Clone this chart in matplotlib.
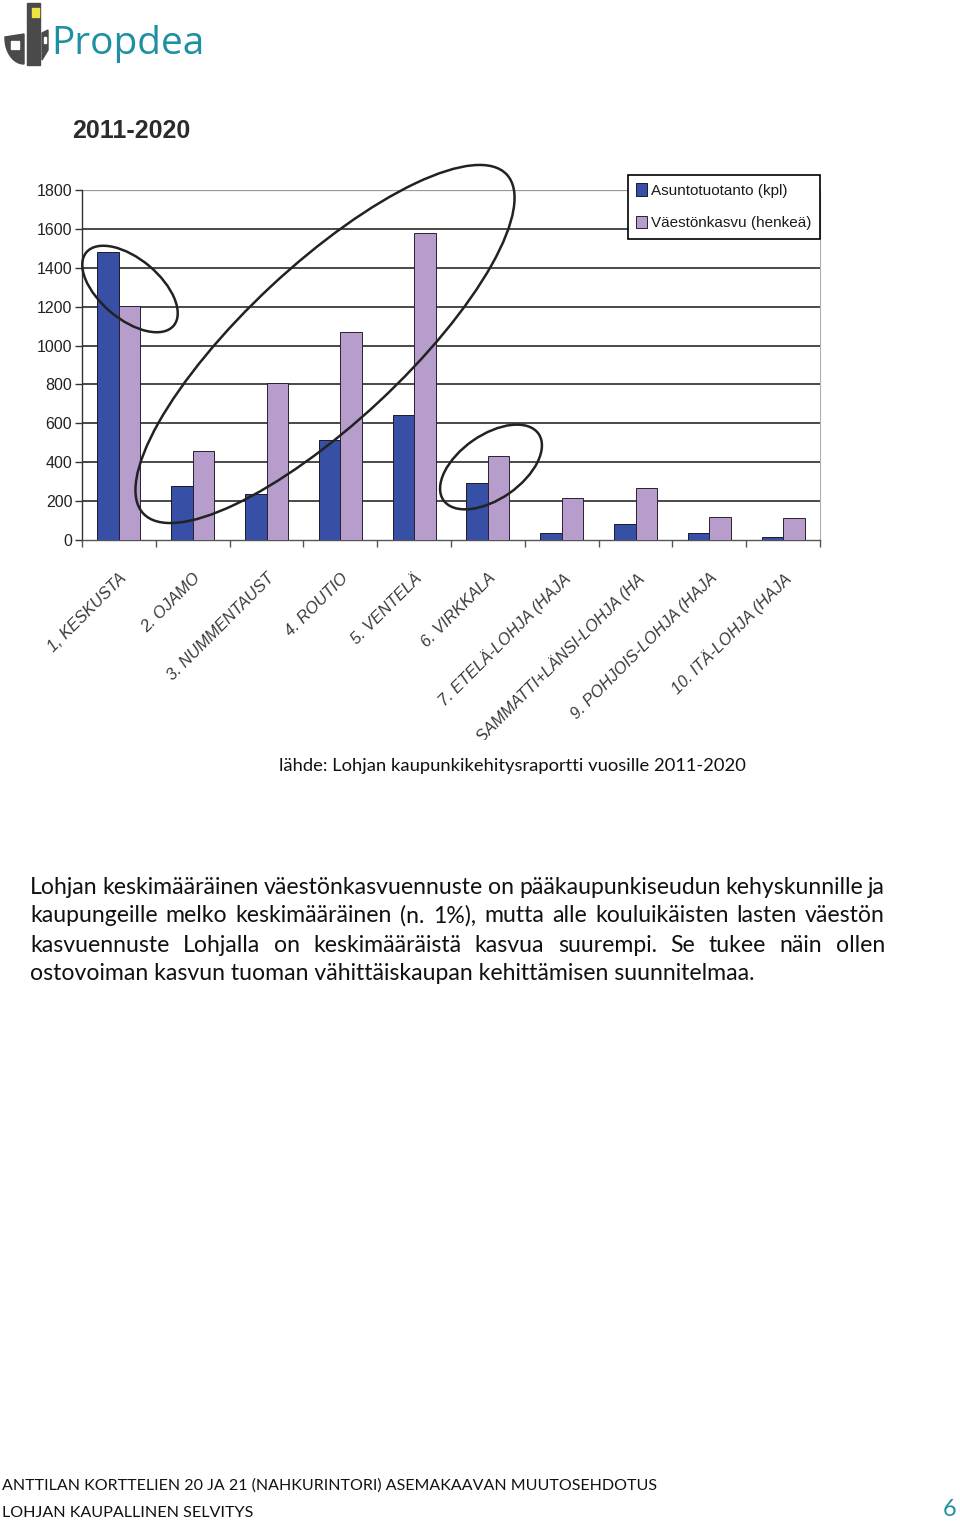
import matplotlib
matplotlib.use("Agg")
import matplotlib.pyplot as plt
import numpy as np
from matplotlib import font_manager
from matplotlib.patches import Ellipse, Rectangle, Polygon
from matplotlib.transforms import Bbox, TransformedBbox

# data (2011-2020)
areas = [
    "1, KESKUSTA",
    "2. OJAMO",
    "3. NUMMENTAUST",
    "4. ROUTIO",
    "5. VENTELÄ",
    "6. VIRKKALA",
    "7. ETELÄ-LOHJA (HAJA",
    "8. SAMMATTI+LÄNSI-LOHJA (HA",
    "9. POHJOIS-LOHJA (HAJA",
    "10. ITÄ-LOHJA (HAJA",
]
housing = [1480, 280, 235, 515, 645, 295, 38, 82, 36, 15]
pop_growth = [1205, 458, 805, 1070, 1580, 430, 215, 270, 120, 115]
series_names = ["Asuntotuotanto (kpl)", "Väestönkasvu (henkeä)"]
y_ticks = list(range(0, 1801, 200))

paragraph = [
    "Lohjan keskimääräinen väestönkasvuennuste on pääkaupunkiseudun kehyskunnille ja",
    "kaupungeille melko keskimääräinen (n. 1%), mutta alle kouluikäisten lasten väestön",
    "kasvuennuste Lohjalla on keskimääräistä kasvua suurempi. Se tukee näin ollen",
    "ostovoiman kasvun tuoman vähittäiskaupan kehittämisen suunnitelmaa.",
]
source = "lähde: Lohjan kaupunkikehitysraportti vuosille 2011-2020"
footer = [
    "ANTTILAN KORTTELIEN 20 JA 21 (NAHKURINTORI) ASEMAKAAVAN MUUTOSEHDOTUS",
    "LOHJAN KAUPALLINEN SELVITYS",
]

W, H = 960, 1524
installed = {f.name for f in font_manager.fontManager.ttflist}
chart_font = "Liberation Sans Narrow" if "Liberation Sans Narrow" in installed else "Liberation Sans"
body_font = "Lato"
teal = "#1f8fa3"

fig = plt.figure(figsize=(W / 100, H / 100), dpi=100)
fig.patch.set_facecolor("white")


def px_axes(left, top, right, bottom):
    return fig.add_axes([left / W, 1 - bottom / H, (right - left) / W, (bottom - top) / H])


# ---- bar chart ----
ax = px_axes(82, 190, 820, 540)
x = np.arange(len(areas))
bw = 0.29
ax.bar(x - bw / 2, housing, bw, color="#3750a6", edgecolor="#1a1a2a", linewidth=0.7,
       label=series_names[0], zorder=3)
ax.bar(x + bw / 2, pop_growth, bw, color="#b79dcc", edgecolor="#2a2030", linewidth=0.7,
       label=series_names[1], zorder=3)
ax.set_xlim(-0.5, len(areas) - 0.5)
ax.set_ylim(0, 1800)

for v in y_ticks[1:]:
    ax.axhline(v, color="#9a9a9a" if v == 1800 else "#2a2a2a",
               lw=0.9 if v == 1800 else 1.2, zorder=1)
ax.spines["top"].set_visible(False)
ax.spines["right"].set_color("#b0b0b0")
ax.spines["left"].set_color("#333333")
ax.spines["bottom"].set_color("#555555")
ax.spines["left"].set_linewidth(1.0)
ax.spines["bottom"].set_linewidth(1.0)

ax.set_yticks(y_ticks)
ax.set_yticklabels([str(v) for v in y_ticks], fontfamily=chart_font, fontsize=11.5, color="#222222")
ax.tick_params(axis="y", length=5, width=1, color="#333333", pad=2)

ax.set_xticks(np.arange(len(areas) + 1) - 0.5, minor=True)
ax.tick_params(axis="x", which="minor", length=5, width=1, color="#555555")
ax.set_xticks(x)
ax.set_xticklabels(areas, rotation=45, ha="right", rotation_mode="anchor",
                   fontfamily=chart_font, fontstyle="italic", fontsize=11.8, color="#3a3a3a")
ax.tick_params(axis="x", which="major", length=0, pad=22)

clip = TransformedBbox(Bbox([[0, 1 - 740 / H], [1, 1]]), fig.transFigure)
for lab in ax.get_xticklabels():
    lab.set_clip_box(clip)
    lab.set_clip_on(True)

leg = ax.legend(loc="upper right", bbox_to_anchor=(1.0, (540 - 175) / 350), frameon=True,
                fancybox=False, edgecolor="black", framealpha=1, borderpad=0.55,
                handlelength=0.7, handleheight=0.9, handletextpad=0.3, labelspacing=1.15,
                borderaxespad=0, prop={"family": chart_font, "size": 11})
leg.get_frame().set_linewidth(1.2)
for t in leg.get_texts():
    t.set_color("#1a1a1a")
leg.set_zorder(5)

# ---- overlay in pixel coordinates (y grows downwards) ----
ov = px_axes(0, 0, W, H)
ov.set_xlim(0, W)
ov.set_ylim(H, 0)
ov.axis("off")
ov.patch.set_alpha(0)

for cx, cy, w, h, ang in [(130, 289, 114, 60, 40), (325, 344, 497, 158, -43), (491, 467, 116, 64, -35)]:
    ov.add_patch(Ellipse((cx, cy), w, h, angle=ang, fill=False, ec="#222222", lw=1.8, zorder=6))

ov.text(72, 131, "2011-2020", fontfamily=chart_font, fontweight="bold", fontsize=18,
        color="#2b2b2b", va="center", ha="left")

# logo
gray = "#4a4a4a"
ov.add_patch(Rectangle((27, 3), 13, 62, color=gray))
ov.add_patch(Rectangle((32, 8), 2.5, 9, color="#f0e442"))
ov.add_patch(Rectangle((36, 8), 2.5, 9, color="#f0e442"))
t = np.linspace(0, np.pi / 2, 20)
left_piece = [(5, 37), (24, 34)] + [(24, 64)] + [(24 - 19 * np.sin(a), 38 + 26 * np.cos(a)) for a in t]
ov.add_patch(Polygon(left_piece, closed=True, color=gray))
for wx in (11, 14, 17):
    ov.add_patch(Rectangle((wx, 41), 1.5, 8, color="white"))
ov.add_patch(Polygon([(42, 33), (48, 30), (48, 50), (42, 60)], closed=True, color=gray))
ov.add_patch(Rectangle((44, 37), 1.5, 6, color="white"))
ov.text(51, 44, "Propdea", fontfamily="Open Sans", fontsize=28, color=teal, va="center", ha="left")

renderer = fig.canvas.get_renderer()


def width_of(txt):
    return txt.get_window_extent(renderer).width


def fitted(xp, yp, s, target, size, **kw):
    txt = ov.text(xp, yp, s, fontsize=size, **kw)
    txt.set_fontsize(size * target / width_of(txt))
    return txt


fitted(279, 766, source, 466, 12, fontfamily=body_font, color="#111111", va="center")

# justified paragraph
left, right = 30, 885
ref = ov.text(0, 0, paragraph[3], fontsize=15, fontfamily=body_font)
body_size = 15 * 724 / width_of(ref)
ref.remove()
for i, line in enumerate(paragraph):
    yp = 887 + 29 * i
    words = line.split(" ")
    if i == len(paragraph) - 1:
        ov.text(left, yp, line, fontsize=body_size, fontfamily=body_font, color="#111111", va="center")
        continue
    items = [ov.text(0, yp, wd, fontsize=body_size, fontfamily=body_font, color="#111111",
                     va="center") for wd in words]
    widths = [width_of(it) for it in items]
    gap = (right - left - sum(widths)) / (len(words) - 1)
    xp = left
    for it, wdt in zip(items, widths):
        it.set_x(xp)
        xp += wdt + gap

fitted(2, 1486, footer[0], 652, 12, fontfamily=body_font, color="#111111", va="center")
fitted(2, 1513, footer[1], 250, 12, fontfamily=body_font, color="#111111", va="center")
ov.text(957, 1510, "6", fontsize=17, fontfamily=body_font, color=teal, va="center", ha="right")

fig.savefig("out.png", dpi=100, facecolor="white")
